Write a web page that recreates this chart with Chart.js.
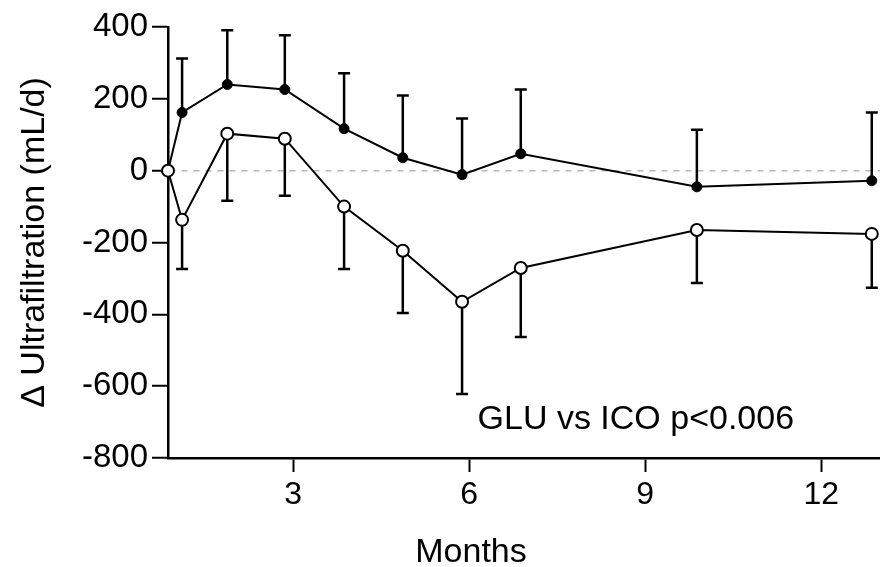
<!DOCTYPE html>
<html>
<head>
<meta charset="utf-8">
<script src="https://cdn.jsdelivr.net/npm/chart.js@4.4.1/dist/chart.umd.min.js"></script>
<style>
  html, body { margin: 0; padding: 0; background: #fff; }
  #wrap { width: 880px; height: 567px; }
</style>
</head>
<body>
<div id="wrap"><canvas id="c" width="880" height="567"></canvas></div>
<script>
// ---- data ----
const months   = [0.87, 1.11, 1.88, 2.86, 3.87, 4.87, 5.88, 6.88, 9.88, 12.86];
const icoMean  = [0, 162, 240, 226, 117, 36, -11, 47, -45, -28];      // filled circles
const icoSD    = [0, 150, 151, 151, 154, 173, 156, 179, 159, 190];     // drawn upward
const gluMean  = [0, -137, 103, 89, -100, -223, -365, -271, -165, -176]; // open circles
const gluSD    = [0, 137, 187, 159, 174, 173, 257, 192, 148, 150];     // drawn downward
const xTicks   = [3, 6, 9, 12];
const yTicks   = [-800, -600, -400, -200, 0, 200, 400];
const xTitle   = 'Months';
const yTitle   = '\u0394 Ultrafiltration (mL/d)';
const note     = 'GLU vs ICO p<0.006';
const notePos  = { x: 8.84, y: -693 };

const FONT = '"Liberation Sans", Arial, sans-serif';

const toXY = (xs, ys) => xs.map((x, i) => ({ x: x, y: ys[i] }));

const errorBars = {
  id: 'errorBars',
  beforeDatasetsDraw(chart) {
    const ctx = chart.ctx;
    const xs = chart.scales.x, ys = chart.scales.y;
    ctx.save();
    ctx.strokeStyle = '#000';
    ctx.lineWidth = 2.5;
    chart.data.datasets.forEach(ds => {
      ds.data.forEach((p, i) => {
        const sd = ds.errors[i];
        if (!sd) return;
        const px = xs.getPixelForValue(p.x);
        const py = ys.getPixelForValue(p.y);
        const ey = ys.getPixelForValue(p.y + ds.errDir * sd);
        ctx.beginPath();
        ctx.moveTo(px, py);
        ctx.lineTo(px, ey);
        ctx.moveTo(px - 6, ey);
        ctx.lineTo(px + 6, ey);
        ctx.stroke();
      });
    });
    ctx.restore();
  }
};

const texts = {
  id: 'texts',
  afterDraw(chart) {
    const ctx = chart.ctx;
    const xs = chart.scales.x, ys = chart.scales.y;
    ctx.save();
    ctx.fillStyle = '#000';
    ctx.textAlign = 'center';
    ctx.textBaseline = 'middle';
    ctx.font = '34px ' + FONT;
    ctx.fillText(note, xs.getPixelForValue(notePos.x), ys.getPixelForValue(notePos.y));
    ctx.font = '34px ' + FONT;
    ctx.fillText(xTitle, 471, 553);
    ctx.restore();
  }
};

new Chart(document.getElementById('c'), {
  type: 'scatter',
  data: {
    datasets: [
      {
        label: 'GLU',
        data: toXY(months, gluMean),
        errors: gluSD,
        errDir: -1,
        showLine: true,
        borderColor: '#000',
        borderWidth: 2,
        pointRadius: 6,
        pointBorderWidth: 2,
        pointBackgroundColor: '#fff',
        pointBorderColor: '#000',
        order: 0
      },
      {
        label: 'ICO',
        data: toXY(months, icoMean),
        errors: icoSD,
        errDir: 1,
        showLine: true,
        borderColor: '#000',
        borderWidth: 2,
        pointRadius: 5,
        pointBorderWidth: 1,
        pointBackgroundColor: '#000',
        pointBorderColor: '#000',
        order: 1
      }
    ]
  },
  options: {
    responsive: false,
    animation: false,
    devicePixelRatio: 1,
    clip: false,
    layout: { autoPadding: false, padding: { left: 0, right: 0, top: 27, bottom: 0 } },
    plugins: { legend: { display: false }, tooltip: { enabled: false } },
    scales: {
      x: {
        type: 'linear',
        min: 0.87,
        max: 13.0,
        afterBuildTicks(scale) { scale.ticks = xTicks.map(v => ({ value: v })); },
        afterFit(scale) { scale.height = 109; scale.paddingLeft = 0; scale.paddingRight = 0; },
        grid: { display: true, drawOnChartArea: false, tickLength: 14, tickColor: '#000', tickWidth: 2 },
        border: { display: true, color: '#000', width: 2.5 },
        ticks: { color: '#000', font: { family: FONT, size: 32 }, padding: 4, maxRotation: 0 }
      },
      y: {
        type: 'linear',
        min: -800,
        max: 400,
        afterBuildTicks(scale) { scale.ticks = yTicks.map(v => ({ value: v })); },
        afterFit(scale) { scale.width = 168; scale.paddingLeft = 0; scale.paddingRight = 0; },
        grid: {
          display: true,
          drawOnChartArea: true,
          color: c => (c.tick && c.tick.value === 0) ? '#b8b8b8' : 'rgba(0,0,0,0)',
          lineWidth: 1.5,
          tickLength: 16,
          tickColor: '#000',
          tickWidth: 2
        },
        border: { display: true, color: '#000', width: 2.5, dash: [6, 6] },
        ticks: { color: '#000', font: { family: FONT, size: 33 }, padding: 4 },
        title: {
          display: true,
          text: yTitle,
          color: '#000',
          font: { family: FONT, size: 34 },
          padding: { top: 14, bottom: 0 }
        }
      }
    }
  },
  plugins: [errorBars, texts]
});
</script>
</body>
</html>
